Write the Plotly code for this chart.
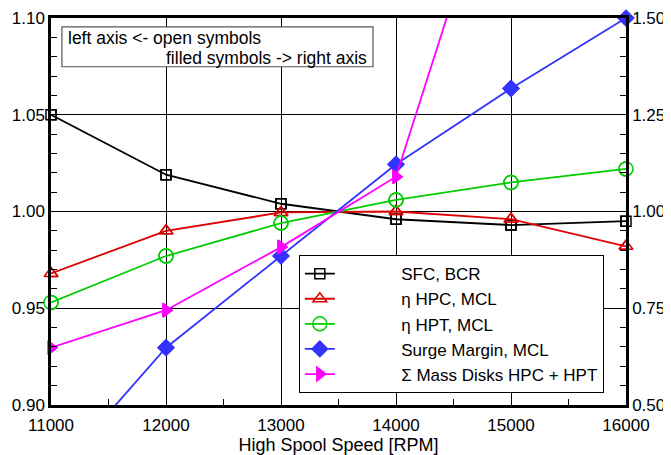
import plotly.graph_objects as go

rpm = [11000, 12000, 13000, 14000, 15000, 16000]
sfc_bcr = [1.050, 1.019, 1.004, 0.996, 0.993, 0.995]
eta_hpc = [0.968, 0.990, 0.9995, 1.000, 0.996, 0.982]
eta_hpt = [0.953, 0.977, 0.994, 1.006, 1.015, 1.022]
surge_margin = [0.31, 0.648, 0.885, 1.122, 1.318, 1.500]
rpm_mass = [11000, 12000, 13000, 14000, 15000]
mass_disks = [0.648, 0.745, 0.908, 1.090, 2.02]

FONT = "Liberation Sans, Arial, sans-serif"
PAD = "\u00a0" * 13

series = [
    ("SFC, BCR", rpm, sfc_bcr, "y", "#000000", "square-open", 10, (0.9, 1.1)),
    ("η HPC, MCL", rpm, eta_hpc, "y", "#dd0000", "triangle-up-open", 12, (0.9, 1.1)),
    ("η HPT, MCL", rpm, eta_hpt, "y", "#00cc00", "circle-open", 14, (0.9, 1.1)),
    ("Surge Margin, MCL", rpm, surge_margin, "y2", "#3333ff", "diamond", 12, (0.5, 1.5)),
    ("Σ Mass Disks HPC + HPT", rpm_mass, mass_disks, "y2", "#ff00ff", "triangle-right", 12, (0.5, 1.5)),
]

fig = go.Figure()
for name, xs, ys, yax, col, sym, ms, rng in series:
    fig.add_trace(go.Scatter(
        x=xs, y=ys, name=PAD + name, yaxis=yax, mode="lines+markers",
        line=dict(color=col, width=1.8),
        marker=dict(symbol=sym, size=ms, color=col, line=dict(color=col, width=1.5)),
        cliponaxis=True,
    ))
    xin = [x for x, y in zip(xs, ys) if rng[0] <= y <= rng[1]]
    yin = [y for y in ys if rng[0] <= y <= rng[1]]
    fig.add_trace(go.Scatter(
        x=xin, y=yin, yaxis=yax, mode="markers", showlegend=False,
        marker=dict(symbol=sym, size=ms, color=col, line=dict(color=col, width=1.5)),
        cliponaxis=False, hoverinfo="skip",
    ))

fig.update_layout(
    template="none",
    width=663, height=447,
    margin=dict(l=43, r=45, t=10, b=50, autoexpand=False),
    paper_bgcolor="white", plot_bgcolor="white",
    font=dict(family=FONT, size=17, color="#000000"),
    showlegend=True,
    legend=dict(
        x=0.431, y=0.209, xanchor="left", yanchor="middle",
        bgcolor="white", bordercolor="#000000", borderwidth=1,
        font=dict(family=FONT, size=17, color="#000000"),
        tracegroupgap=0,
    ),
    xaxis=dict(
        range=[11000, 16000], dtick=1000, tick0=11000, tickformat="d",
        showgrid=True, gridcolor="#000000", gridwidth=1,
        showline=True, linecolor="#000000", linewidth=2.5, mirror=True,
        ticks="", zeroline=False, automargin=False, ticklabelstandoff=3,
        ticklabeloverflow="allow",
        minor=dict(dtick=500, ticks="inside", ticklen=6, tickcolor="#000000", showgrid=False),
        title=dict(text="High Spool Speed [RPM]", font=dict(size=18), standoff=3),
        tickfont=dict(size=17),
    ),
    yaxis=dict(
        range=[0.9, 1.1], dtick=0.05, tick0=0.9, tickformat=".2f",
        showgrid=True, gridcolor="#000000", gridwidth=1,
        showline=True, linecolor="#000000", linewidth=2.5,
        ticks="", zeroline=False, automargin=False, ticklabeloverflow="allow",
        minor=dict(dtick=0.01, ticks="inside", ticklen=6, tickcolor="#000000", showgrid=False),
        tickfont=dict(size=17),
    ),
    yaxis2=dict(
        range=[0.5, 1.5], dtick=0.25, tick0=0.5, tickformat=".2f",
        overlaying="y", side="right", showgrid=False,
        showline=True, linecolor="#000000", linewidth=2.5,
        ticks="inside", ticklen=10, tickcolor="#000000", zeroline=False,
        automargin=False, ticklabeloverflow="allow",
        minor=dict(dtick=0.05, ticks="inside", ticklen=6, tickcolor="#000000", showgrid=False),
        tickfont=dict(size=17),
    ),
)

fig.add_shape(type="rect", xref="paper", yref="paper",
              x0=0.019, x1=0.56, y0=0.874, y1=0.977,
              line=dict(color="#555555", width=1.2), fillcolor="white", layer="above")
fig.add_annotation(xref="paper", yref="paper", x=0.026, y=0.948, xanchor="left", yanchor="middle",
                   text="left axis <- open symbols", showarrow=False, font=dict(size=17.5))
fig.add_annotation(xref="paper", yref="paper", x=0.553, y=0.897, xanchor="right", yanchor="middle",
                   text="filled symbols -> right axis", showarrow=False, font=dict(size=17.5))

fig.write_html("out.html")
